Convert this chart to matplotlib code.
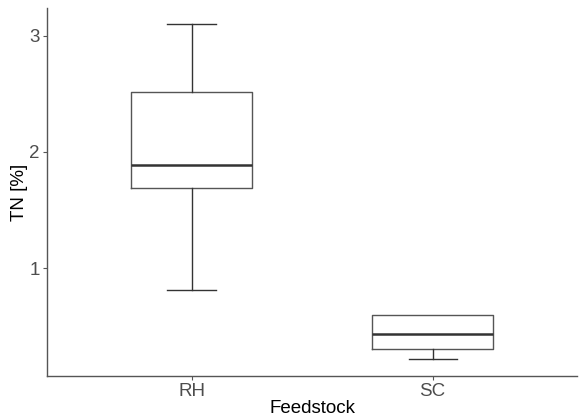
import matplotlib
matplotlib.use("Agg")
import matplotlib.pyplot as plt

# five-number summaries
feedstocks = ["RH", "SC"]
whisker_low = [0.81, 0.215]
q1 = [1.69, 0.30]
median = [1.89, 0.43]
q3 = [2.52, 0.60]
whisker_high = [3.10, 0.60]

plt.rcParams['font.family'] = ['Liberation Sans', 'DejaVu Sans']

stats = []
for i, name in enumerate(feedstocks):
    stats.append(dict(label=name, whislo=whisker_low[i], q1=q1[i], med=median[i],
                      q3=q3[i], whishi=whisker_high[i], fliers=[]))

fig = plt.figure(figsize=(5.79, 4.16), dpi=100)
ax = fig.add_axes([0.081, 0.096, 0.916, 0.885])

line_col = '#333333'
parts = ax.bxp(stats, positions=[1, 2], widths=0.5, showfliers=False,
               boxprops=dict(color='#555555', linewidth=1.0),
               medianprops=dict(color=line_col, linewidth=1.8),
               whiskerprops=dict(color=line_col, linewidth=1.0),
               capprops=dict(color=line_col, linewidth=1.0),
               capwidths=0.2)

# no whisker (and no cap) where the whisker end sits on the box edge
for i in range(len(feedstocks)):
    if whisker_high[i] <= q3[i]:
        parts['caps'][2 * i + 1].set_visible(False)
        parts['whiskers'][2 * i + 1].set_visible(False)

ax.set_xlim(0.4, 2.6)
ax.set_ylim(0.07, 3.24)
ax.set_yticks([1, 2, 3])
ax.set_yticklabels(['1', '2', '3'])

for side in ['top', 'right']:
    ax.spines[side].set_visible(False)
for side in ['left', 'bottom']:
    ax.spines[side].set_color('#555555')
    ax.spines[side].set_linewidth(1.0)

ax.tick_params(colors='#555555', labelcolor='#4D4D4D', labelsize=13.5, length=3, pad=2)
ax.set_xlabel('Feedstock', fontsize=13.5, labelpad=0)
ax.set_ylabel('TN [%]', fontsize=13.5, labelpad=1)

fig.savefig('out.png', dpi=100)
